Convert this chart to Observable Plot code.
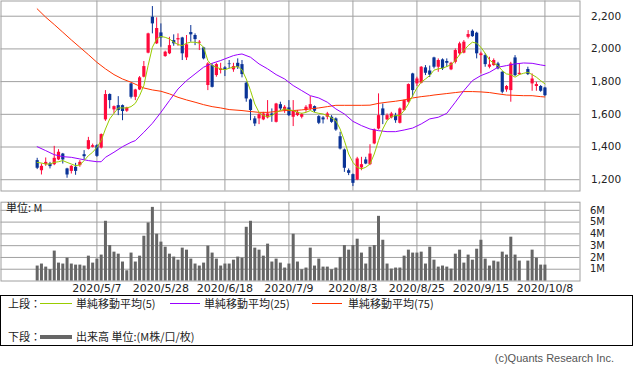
<!DOCTYPE html>
<html><head><meta charset="utf-8">
<script src="https://cdn.jsdelivr.net/npm/d3@7"></script>
<script src="https://cdn.jsdelivr.net/npm/@observablehq/plot@0.6"></script>
<style>
body{margin:0;background:#fff;}
#wrap{position:relative;width:633px;height:372px;overflow:hidden;font-family:"DejaVu Sans",sans-serif;background:#fff;}
#top,#vol{position:absolute;left:0;}
#top{top:0;}
#vol{top:192px;}
.box{position:absolute;left:0;top:295px;width:631px;height:49px;border:1px solid #000;}
.lt{position:absolute;font-family:"Noto Sans CJK JP",sans-serif;font-size:11px;line-height:13px;color:#222;white-space:nowrap;}
.ln{position:absolute;height:1px;}
.copy{position:absolute;right:19px;top:351px;font-family:"Liberation Sans",sans-serif;font-size:11px;line-height:14px;color:#555;}
</style></head>
<body><div id="wrap">
<div id="top"></div><div id="vol"></div>
<div class="box"></div>
<div class="lt" style="left:8px;top:297px;">上段：</div>
<div class="ln" style="left:40px;top:303px;width:32px;background:#99cc00;"></div>
<div class="lt" style="left:76px;top:297px;">単純移動平均(5)</div>
<div class="ln" style="left:170px;top:303px;width:30px;background:#9900ff;"></div>
<div class="lt" style="left:204px;top:297px;">単純移動平均(25)</div>
<div class="ln" style="left:312px;top:303px;width:30px;background:#ff3300;"></div>
<div class="lt" style="left:348px;top:297px;">単純移動平均(75)</div>
<div class="lt" style="left:8px;top:330px;">下段：</div>
<div class="ln" style="left:40px;top:335px;width:32px;height:4px;background:#666;"></div>
<div class="lt" style="left:76px;top:330px;">出来高 単位:(M株/口/枚)</div>
<div class="copy">(c)Quants Research Inc.</div>
</div>
<script>
// trading-day slot index 0..119 (2020/4/13 .. 2020/10/8); slot 114 = 2020/10/1 (no trading)
const tickIdx = [14, 29, 44, 59, 74, 89, 104, 119];
const tickLabels = ["2020/5/7","2020/5/28","2020/6/18","2020/7/9","2020/8/3","2020/8/25","2020/9/15","2020/10/8"];
const priceTicks = [1200, 1400, 1600, 1800, 2000, 2200];
const volTicks = [1, 2, 3, 4, 5, 6];

const opens = [1317,1255,1292,1296,1292,1321,1357,1266,1251,1276,1286,1353,1386,1398,1408,1394,1566,1721,1627,1653,
1653,1619,1786,1704,1749,1827,1974,2194,2031,2098,1953,1970,2051,2055,2067,1945,2100,2082,2035,2006,
1776,1898,1837,1868,1884,1908,1872,1912,1904,1790,1688,1572,1572,1566,1578,1602,1551,1659,1623,1639,
1582,1592,1582,1623,1633,1647,1586,1578,1582,1582,1572,1463,1382,1255,1231,1198,1272,1321,1292,1419,
1510,1633,1566,1578,1592,1545,1623,1674,1847,1786,1790,1884,1865,1945,1888,1933,1923,1872,1918,1970,
1974,2071,2108,2096,1959,1959,1888,1898,1908,1857,1749,1745,1945,1843,null,1874,1786,1770,1770,1761];
const highs = [1331,1296,1333,1306,1404,1384,1361,1270,1286,1300,1317,1378,1459,1418,1414,1480,1745,1725,1651,1708,
1657,1643,1790,1753,1831,1923,2096,2259,2190,2153,1986,2071,2086,2092,2071,2082,2143,2092,2051,2010,
1916,1908,1912,1912,1892,1929,1912,1939,1929,1796,1694,1586,1606,1612,1684,1633,1667,1674,1653,1684,
1684,1623,1606,1653,1708,1651,1592,1586,1612,1592,1578,1490,1388,1266,1235,1337,1337,1337,1414,1510,
1725,1663,1602,1612,1606,1639,1688,1786,1851,1827,1892,1898,1895,1949,1939,1939,1939,1918,2000,2041,
2051,2112,2116,2102,1980,1970,1949,1939,1918,1861,1776,1918,1959,1908,null,1888,1847,1796,1776,1765];
const lows = [1262,1229,1282,1266,1286,1317,1296,1209,1235,1227,1276,1321,1382,1394,1337,1388,1557,1633,1602,1592,
1561,1612,1694,1684,1745,1823,1970,2092,2027,2010,1949,1965,2016,2016,1929,1929,2041,2020,1990,1933,
1745,1761,1827,1847,1831,1878,1857,1874,1823,1674,1561,1525,1537,1561,1572,1551,1547,1623,1606,1586,
1525,1586,1572,1612,1623,1610,1537,1541,1566,1545,1496,1382,1245,1225,1158,1194,1255,1292,1286,1414,
1504,1537,1561,1572,1545,1541,1619,1668,1704,1770,1786,1837,1825,1878,1857,1868,1888,1867,1908,1959,
1970,2061,2071,1939,1847,1888,1878,1894,1872,1725,1735,1674,1831,1837,null,1837,1741,1741,1735,1708];
const closes = [1270,1282,1306,1280,1331,1368,1321,1229,1282,1251,1306,1341,1439,1408,1343,1476,1721,1684,1647,1623,
1617,1639,1704,1749,1823,1892,2092,2153,2125,2067,1980,2020,2031,2063,1970,2025,2086,2057,2041,1939,
1908,1765,1904,1878,1874,1904,1892,1888,1843,1694,1623,1541,1598,1602,1602,1592,1663,1633,1643,1592,
1623,1612,1598,1643,1659,1619,1545,1566,1602,1551,1504,1388,1270,1239,1178,1327,1292,1296,1357,1504,
1592,1592,1592,1602,1561,1633,1684,1782,1745,1816,1888,1851,1840,1888,1929,1878,1912,1912,1990,2031,
2041,2088,2075,1970,1970,1904,1902,1929,1878,1735,1770,1908,1837,1851,null,1843,1816,1782,1741,1714];
const volumes = [1.27,1.44,1.18,0.96,2.54,1.52,1.44,1.94,1.44,1.35,1.35,1.27,2.11,1.52,1.86,2.2,5.07,3.01,2.45,2.28,
1.61,0.87,2.37,1.61,2.11,3.8,4.93,6.25,3.97,3.3,2.87,2.28,2.03,1.77,2.79,2.62,1.86,1.44,1.27,1.52,
2.96,2.37,1.86,1.27,1.44,1.44,1.77,2.03,1.94,4.56,5.07,2.79,2.62,2.11,3.13,1.61,1.86,1.52,1.1,1.44,
3.97,1.61,0.96,1.1,2.79,1.27,1.86,1.18,1.18,0.96,1.1,2.0,3.01,2.62,3.01,3.55,2.37,1.44,2.87,3.01,
5.49,3.46,1.44,1.01,1.1,1.1,2.11,2.62,2.37,2.37,2.45,1.44,2.87,1.77,1.18,1.27,1.18,1.01,2.28,2.62,
1.52,2.2,1.77,2.7,3.46,1.86,1.27,1.69,1.61,2.45,2.2,3.72,2.2,1.69,null,1.69,2.62,1.94,1.35,1.35];

const ma5 = [1306,1302,1296,1296,1306,1310,1317,1306,1296,1286,1290,1317,1347,1368,1398,1439,1510,1572,1606,1639,
1639,1639,1647,1667,1714,1776,1898,2010,2061,2076,2071,2061,2041,2027,2020,2035,2041,2041,2035,2010,
1929,1898,1888,1878,1872,1882,1888,1892,1872,1816,1745,1663,1612,1592,1586,1592,1612,1623,1633,1627,
1623,1612,1606,1612,1623,1612,1606,1602,1592,1578,1561,1510,1439,1357,1306,1276,1266,1276,1296,1357,
1439,1510,1561,1586,1592,1592,1623,1663,1714,1761,1796,1816,1837,1870,1878,1882,1892,1904,1929,1965,
1990,2020,2041,2035,2010,1973,1933,1912,1898,1867,1847,1843,1827,1843,1851,1857,1843,1827,1806,1786];
// [slot index, value]
const ma25 = [[0,1402],[2,1378],[4,1353],[6,1341],[8,1337],[10,1327],[12,1317],[14,1310],[15,1310],[16,1337],[18,1368],
[20,1402],[22,1429],[23,1439],[25,1490],[27,1545],[29,1612],[31,1684],[33,1755],[35,1806],[37,1847],[39,1888],
[41,1912],[43,1929],[45,1949],[46,1959],[47,1965],[48,1969],[50,1949],[52,1908],[54,1878],[56,1843],[58,1816],
[60,1776],[62,1745],[64,1714],[66,1700],[68,1674],[70,1633],[72,1602],[74,1557],[76,1531],[78,1510],[80,1500],
[82,1494],[84,1494],[86,1504],[88,1516],[90,1541],[92,1572],[94,1582],[96,1606],[98,1674],[100,1745],[102,1806],
[104,1837],[106,1857],[108,1888],[110,1898],[112,1908],[114,1914],[116,1912],[118,1902],[119,1898]];
const ma75 = [[0,2245],[2,2194],[4,2149],[6,2102],[8,2055],[10,2010],[12,1965],[14,1918],[16,1878],[18,1843],[20,1816],
[22,1796],[25,1761],[27,1749],[29,1741],[31,1725],[33,1704],[35,1688],[37,1674],[39,1659],[41,1647],[43,1639],
[45,1629],[48,1623],[50,1617],[52,1612],[54,1612],[56,1617],[58,1623],[60,1623],[62,1627],[64,1633],[66,1639],
[68,1647],[70,1655],[72,1655],[74,1655],[76,1655],[78,1656],[80,1667],[82,1674],[84,1680],[86,1688],[88,1700],
[90,1708],[92,1714],[93,1718],[96,1727],[98,1733],[100,1739],[102,1739],[104,1737],[106,1733],[108,1725],
[110,1718],[112,1716],[114,1714],[116,1714],[118,1708],[119,1706]];

const UP = "#ff0a3c", DOWN = "#0a3396", GRID = "#a0a0a0";
const candles = d3.range(opens.length).map(i => ({i, o: opens[i], h: highs[i], l: lows[i], c: closes[i]})).filter(d => d.o != null);
const vols = d3.range(volumes.length).map(i => ({i, v: volumes[i]})).filter(d => d.v != null);
const ma5Data = ma5.map((v, i) => ({i, v}));
const colorOf = d => d.c >= d.o ? UP : DOWN;
const xDomain = [-8.48, 127.22];

const topChart = Plot.plot({
  width: 633, height: 191, marginLeft: 0.5, marginRight: 53.5, marginTop: 0.5, marginBottom: 0.5,
  style: {fontFamily: "DejaVu Sans, sans-serif", fontSize: "10.5px", color: "#222", background: "transparent", overflow: "visible"},
  x: {domain: xDomain, axis: null},
  y: {domain: [1131, 2293], axis: null},
  marks: [
    Plot.gridX(tickIdx, {stroke: GRID, strokeOpacity: 1}),
    Plot.gridY(priceTicks, {stroke: GRID, strokeOpacity: 1}),
    Plot.frame({stroke: GRID}),
    Plot.ruleX(candles, {x: "i", y1: "l", y2: "h", stroke: colorOf, strokeWidth: 1}),
    Plot.ruleX(candles, {x: "i", y1: "o", y2: "c", stroke: colorOf, strokeWidth: 3.2}),
    Plot.line(ma75, {x: d => d[0], y: d => d[1], stroke: "#ff3300", strokeWidth: 1}),
    Plot.line(ma25, {x: d => d[0], y: d => d[1], stroke: "#9900ff", strokeWidth: 1}),
    Plot.line(ma5Data, {x: "i", y: "v", stroke: "#99cc00", strokeWidth: 1}),
    Plot.axisY(priceTicks, {anchor: "right", label: null, tickSize: 0, tickPadding: 11, tickFormat: d3.format(","), fill: "#222"})
  ]
});
document.getElementById("top").appendChild(topChart);

const volChart = Plot.plot({
  width: 633, height: 110, marginLeft: 0.5, marginRight: 53.5, marginTop: 9.7, marginBottom: 21.5,
  style: {fontFamily: "DejaVu Sans, sans-serif", fontSize: "10px", color: "#222", background: "transparent", overflow: "visible"},
  x: {domain: xDomain, axis: null},
  y: {domain: [0, 6.69], axis: null},
  marks: [
    Plot.gridX(tickIdx, {stroke: GRID, strokeOpacity: 1}),
    Plot.gridY(volTicks, {stroke: GRID, strokeOpacity: 1}),
    Plot.frame({stroke: GRID}),
    Plot.ruleX(vols, {x: "i", y1: 0, y2: "v", stroke: "#666", strokeWidth: 3}),
    Plot.axisY(volTicks, {anchor: "right", label: null, tickSize: 0, tickPadding: 10, tickFormat: d => d + "M", fill: "#222"}),
    Plot.axisX(tickIdx, {anchor: "bottom", label: null, tickSize: 0, tickPadding: 3, tickFormat: d => tickLabels[tickIdx.indexOf(d)], fontSize: 11, fill: "#222"}),
    Plot.text(["単位: M"], {frameAnchor: "top-left", dx: 5, dy: 2, fontSize: 11, fill: "#222", fontFamily: "Noto Sans CJK JP, sans-serif"})
  ]
});
document.getElementById("vol").appendChild(volChart);
</script>
</body></html>
